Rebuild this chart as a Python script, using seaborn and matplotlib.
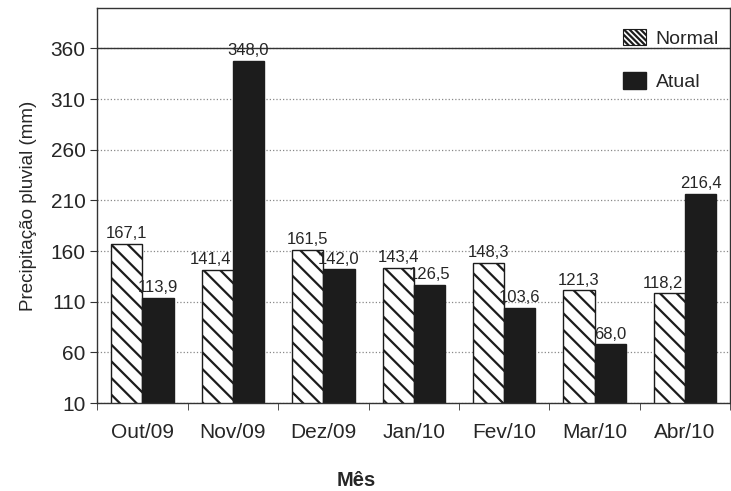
import matplotlib
matplotlib.use('Agg')
import matplotlib.pyplot as plt
import numpy as np
import pandas as pd
import seaborn as sns
from matplotlib.patches import Patch

meses = ['Out/09', 'Nov/09', 'Dez/09', 'Jan/10', 'Fev/10', 'Mar/10', 'Abr/10']
normal = [167.1, 141.4, 161.5, 143.4, 148.3, 121.3, 118.2]
atual = [113.9, 348.0, 142.0, 126.5, 103.6, 68.0, 216.4]
yticks = [10, 60, 110, 160, 210, 260, 310, 360]

df = pd.DataFrame({
    'Mês': meses * 2,
    'valor': normal + atual,
    'serie': ['Normal'] * len(meses) + ['Atual'] * len(meses),
})

sns.set_style('white')
plt.rcParams['font.family'] = ['Liberation Sans', 'DejaVu Sans']
plt.rcParams['hatch.linewidth'] = 1.6

fig = plt.figure(figsize=(7.31, 4.91), dpi=100)
ax = fig.add_axes([0.133, 0.179, 0.866, 0.805])

sns.barplot(data=df, x='Mês', y='valor', hue='serie', ax=ax,
            palette={'Normal': 'white', 'Atual': '#1c1c1c'},
            edgecolor='#1c1c1c', linewidth=1.0, width=0.69, gap=0,
            saturation=1, legend=False)

# hatch the Normal bars, comma decimal labels
for cont, serie in zip(ax.containers, ['Normal', 'Atual']):
    if serie == 'Normal':
        for p in cont:
            p.set_hatch('\\\\')
    labels = [f'{v:.1f}'.replace('.', ',') for v in cont.datavalues]
    texts = ax.bar_label(cont, labels=labels, padding=2, fontsize=12)
    if serie == 'Normal':
        # nudge left when the neighbouring bar is taller
        for t, n, a in zip(texts, normal, atual):
            if a > n:
                t.xyann = (-5, t.xyann[1])

ax.set_ylim(10, 400)
ax.set_xlim(-0.5, len(meses) - 0.5)
ax.set_yticks(yticks)
ax.tick_params(axis='y', labelsize=15, length=5, direction='out', left=True, color='#333333')
ax.tick_params(axis='x', which='major', labelsize=15, length=0, pad=14)
ax.set_xticks(np.arange(-0.5, len(meses)), minor=True)
ax.tick_params(axis='x', which='minor', length=5, direction='out', bottom=True, color='#333333')

ax.yaxis.grid(True, linestyle=':', color='#888888', linewidth=0.9)
ax.axhline(yticks[-1], color='#333333', linewidth=1.0)
ax.set_axisbelow(True)
for s in ax.spines.values():
    s.set_color('#333333')
    s.set_linewidth(1.0)

ax.set_xlabel('')
ax.set_ylabel('Precipitação pluvial (mm)', fontsize=13.5, labelpad=10)
fig.text(0.488, 0.022, 'Mês', fontsize=14.5, fontweight='bold', ha='center', va='center')

handles = [Patch(facecolor='white', edgecolor='#1c1c1c', hatch='\\\\\\\\\\\\', linewidth=0.8, label='Normal'),
           Patch(facecolor='#1c1c1c', edgecolor='#1c1c1c', label='Atual')]
ax.legend(handles=handles, loc='upper right', frameon=False, fontsize=14,
          handlelength=1.2, handleheight=0.9, handletextpad=0.5,
          labelspacing=1.25, bbox_to_anchor=(1.01, 0.99))

fig.savefig('out.png', dpi=100)
